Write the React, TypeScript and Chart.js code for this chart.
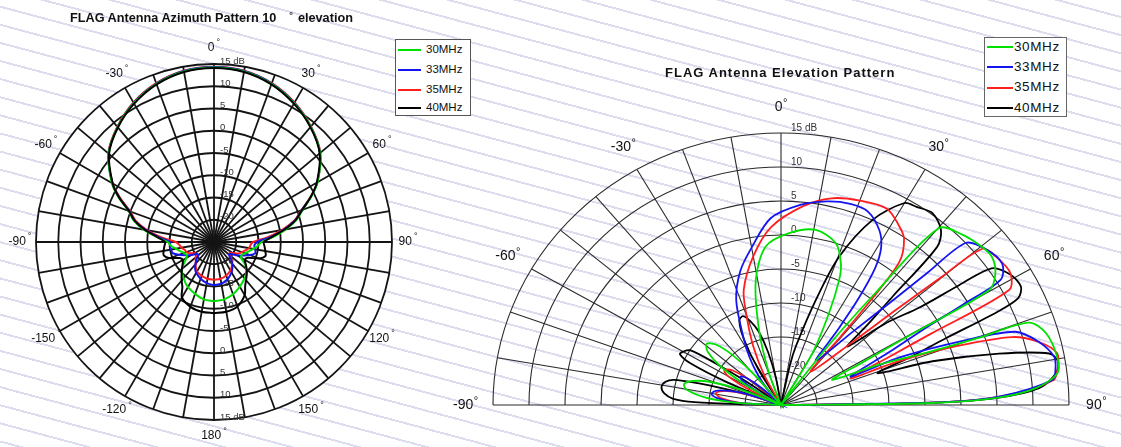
import React, { useEffect, useRef } from 'react';
import { Chart, registerables } from 'chart.js';
Chart.register(...registerables);

// ---------- shared ----------
const SERIES_NAMES = ['30MHz', '33MHz', '35MHz', '40MHz'];
const SERIES_COLORS = ['#00e000', '#1414f0', '#ff1e1e', '#000000'];
const DB_MIN = -25;
const RING_DB = [-20, -15, -10, -5, 0, 5, 10, 15];
const RING_LABELS = ['-20', '-15', '-10', '-5', '0', '5', '10', '15 dB'];
const AZ_TITLE = 'FLAG Antenna Azimuth Pattern 10';
const AZ_TITLE_TAIL = 'elevation';
const EL_TITLE = 'FLAG Antenna Elevation Pattern';

// ---------- azimuth ----------
const AZ_SPOKES = [0, 10, 20, 30, 40, 50, 60, 70, 80, 90, 100, 110, 120, 130, 140, 150, 160, 170, 180, 190, 200, 210, 220, 230, 240, 250, 260, 270, 280, 290, 300, 310, 320, 330, 340, 350];
const AZ_LABEL_ANGLES = [0, 30, 60, 90, 120, 150, 180, 210, 240, 270, 300, 330];
const AZ_LABEL_TEXT = ['0', '30', '60', '90', '120', '150', '180', '-120', '-150', '-90', '-60', '-30'];
const AZ_ANGLES = [-180, -170, -160, -150, -145, -140, -135, -130, -125, -120, -115, -110, -105, -100, -95, -90, -85, -80, -75, -70, -65, -60, -50, -40, -30, -20, -10,
  0, 10, 20, 30, 40, 50, 60, 65, 70, 75, 80, 85, 90, 95, 100, 105, 110, 115, 120, 125, 130, 135, 140, 145, 150, 160, 170, 180];
const AZ_30 = [-11.7, -11.9, -12.6, -13.3, -13.8, -14.4, -14.9, -15.6, -16.8, -17.9, -18.2, -17.8, -17.1, -16.3, -15.3, -14.6, -12.0, -8.9, -6.3, -4.6, -1.4, 1.5, 5.9, 8.7, 11.0, 12.8, 13.9,
  14.2, 13.9, 12.8, 11.0, 8.8, 6.1, 1.9, -0.9, -3.8, -5.8, -8.6, -11.6, -14.3, -15.1, -16.0, -16.9, -17.6, -18.1, -18.0, -16.6, -15.5, -14.8, -14.3, -13.9, -13.4, -12.5, -11.9, -11.7];
const AZ_33 = [-15.3, -15.6, -16.2, -17.0, -17.6, -18.5, -19.5, -20.4, -20.3, -19.2, -18.0, -16.6, -15.4, -15.2, -15.1, -15.1, -12.5, -9.4, -6.6, -4.8, -1.6, 1.4, 5.9, 8.7, 11.1, 12.9, 14.0,
  14.3, 14.0, 12.9, 11.1, 8.8, 6.1, 1.8, -1.0, -4.0, -6.1, -9.1, -12.3, -15.3, -15.9, -15.6, -15.4, -16.4, -17.8, -19.0, -20.3, -20.6, -19.6, -18.6, -17.8, -17.1, -16.1, -15.5, -15.3];
const AZ_35 = [-16.5, -16.6, -16.9, -17.3, -17.9, -18.6, -19.2, -19.6, -20.3, -20.0, -19.0, -18.4, -18.2, -17.6, -17.2, -16.4, -13.2, -9.8, -6.8, -5.0, -1.8, 1.3, 6.0, 8.8, 11.2, 13.0, 14.1,
  14.4, 14.1, 13.0, 11.2, 8.9, 6.2, 1.8, -1.1, -4.1, -6.3, -9.5, -13.0, -16.2, -16.8, -17.0, -17.7, -18.3, -18.9, -20.0, -20.7, -20.2, -19.4, -18.7, -18.1, -17.6, -17.0, -16.6, -16.5];
const AZ_40 = [-9.0, -9.1, -9.5, -10.6, -12.6, -13.7, -14.7, -15.6, -16.4, -16.9, -16.5, -14.4, -13.3, -13.5, -13.8, -14.0, -12.2, -9.2, -6.5, -4.7, -1.5, 1.3, 5.8, 8.6, 10.9, 12.7, 13.8,
  14.1, 13.8, 12.7, 10.9, 8.7, 6.0, 1.7, -1.0, -3.9, -6.0, -8.9, -11.9, -13.8, -13.6, -13.3, -13.0, -14.2, -16.6, -17.0, -16.3, -15.4, -14.6, -13.8, -12.8, -11.2, -9.6, -9.1, -9.0];

// ---------- elevation ----------
const EL_SPOKES = [-90, -80, -70, -60, -50, -40, -30, -20, -10, 0, 10, 20, 30, 40, 50, 60, 70, 80, 90];
const EL_LABEL_ANGLES = [-90, -60, -30, 0, 30, 60, 90];
const EL_LABEL_TEXT = ['-90', '-60', '-30', '0', '30', '60', '90'];

const EL_30_ANG = [-90, -87, -84, -80, -77, -74, -71, -68, -65,
  -62, -59, -56, -52.5, -49, -45.5, -42.5, -39.5, -37,
  -23, -19.5, -15.5, -10.8, -5.2, 2.5, 10.6, 17.7, 21.8, 23.7, 26.3, 29.8, 33,
  35, 37, 38.5, 40.1, 45, 50, 53.4, 57, 59.7, 60.2, 61, 62.5,
  66.5, 69.3, 70.2, 70.6, 74, 79.5, 83, 86, 88, 89.2, 90];
const EL_30_DB = [-25, -19, -14.5, -11.6, -11.2, -12.2, -14.5, -19, -25,
  -25, -19.5, -15, -12.2, -11.3, -12.3, -15, -19.5, -25,
  -25, -20, -13.6, -6.3, -1.6, 0.3, 1.2, 0, -2.6, -4.9, -10, -16.2, -25,
  -25, -14, -4, 9, 10.5, 11.3, 11.5, 10.5, 8.5, -4.3, -12, -17,
  -10, -2.8, 4, 11.5, 13.3, 14, 13.7, 10.5, 5, -4, -25];

const EL_33_ANG = [-90, -87, -84, -80.5, -77, -74, -71.5, -69,
  -62, -59, -56, -53, -50, -47, -44,
  -42, -39, -36, -32, -28, -22, -16, -10, -3, 5, 12, 18, 23, 28, 31, 33, 34.5, 35.5, 36.7,
  42.8, 45.2, 46.3, 47.1, 51, 55.9, 58.9, 59.7, 60.6, 62.7, 66.7,
  67, 69.6, 71.7, 75.5, 79.4, 82, 84.4, 87.7, 89, 90];
const EL_33_DB = [-25, -19, -16.4, -15.2, -15.7, -17.5, -20, -25,
  -25, -21, -18.4, -18, -19, -21.5, -25,
  -25, -22, -19.6, -16.8, -14, -8.4, -4.5, -1.5, 2.5, 4.5, 5.6, 6.1, 5.9, 4.1, 2, -1, -6, -11.5, -16.9,
  -10.3, -3.5, 3.2, 10, 11.5, 12.1, 10.6, 4.3, -2, -8.2, -14.5,
  -7, 2.4, 9.3, 12, 13.6, 13.5, 12.9, 5.3, -3, -25];

const EL_35_ANG = [-90, -87, -83, -79, -75, -72, -69,
  -66, -63, -60, -57, -53, -49, -46,
  -33, -28, -24, -20, -17, -10, -3, 6, 13, 20, 27, 32, 35, 38, 39, 39.5, 40,
  47.1, 48.8, 49.8, 50.6, 54, 58.7, 61.9, 63.3, 64.7, 68,
  68.5, 70.5, 72.7, 75.5, 78.8, 82, 84.5, 87.5, 89, 90];
const EL_35_DB = [-25, -19.5, -16.6, -15.8, -17, -20, -25,
  -25, -20, -16.5, -15.6, -16.5, -20, -25,
  -25, -20, -15.5, -11, -7.3, -2.8, 1.2, 4.4, 6.2, 7, 7.4, 6, 4.8, 1.7, -5, -12, -18.6,
  -11.2, -3.7, 4, 11.2, 12, 12.3, 10.9, -1.8, -8.2, -14.6,
  -7.5, 1, 8.6, 12, 14.1, 13.8, 13, 6, -3, -25];

const EL_40_ANG = [-90, -89, -88, -86.5, -84, -81, -78, -76, -74.5, -73, -71.5, -70,
  -68, -66, -64, -62, -60, -57.5, -56, -54.5, -53,
  -34, -31, -28, -25, -22, -19, -16, -13, -10, -8,
  10, 12, 13.4, 17.4, 20.3, 25, 30, 33, 36.7, 40.8, 43, 44.2, 45.5, 47,
  50.5, 53.3, 54.5, 55.5, 59, 62.4, 64.5, 65.5, 66.8, 68.5, 70.8,
  73, 76, 78.5, 80.5, 83, 86, 88, 89.2, 90];
const EL_40_DB = [-25, -20, -13, -10, -8.7, -8.2, -8.6, -9.7, -13, -17, -20, -25,
  -25, -17, -11, -9.1, -9.3, -10, -14, -19, -25,
  -25, -19, -14, -11.3, -10.9, -12, -13.8, -17, -21, -25,
  -25, -19, -16.2, -8.8, -1.8, 5, 9.3, 9.7, 10.2, 9, 6.8, -2.8, -8, -12.4,
  -6, -1, 5, 10.5, 12.2, 12.6, 11.5, 8, -0.1, -5.5, -10.8,
  -3, 6.2, 13, 14, 13.5, 11, 5, -5, -25];

const FONT = '"Liberation Sans", Arial, Helvetica, sans-serif';

function toXY(angles: number[], dbs: number[]) {
  return angles.map((a, i) => {
    const r = Math.max(0, dbs[i] - DB_MIN);
    const t = (a * Math.PI) / 180;
    return { x: r * Math.sin(t), y: r * Math.cos(t) };
  });
}

type GridOpts = {
  full: boolean;
  spokes: number[];
  labelAngles: number[];
  labelText: string[];
  labelR: number;
  font: string;
  supFont: string;
  supGap: number;
  supRaise: number;
  gridColor: string;
  gridWidth: number;
  ringFont: string;
  ringDx: number;
  ringDy: number;
  fillWhite: boolean;
};

function drawDeg(ctx: CanvasRenderingContext2D, text: string, x: number, y: number, o: GridOpts) {
  ctx.font = o.font;
  const w1 = ctx.measureText(text).width;
  ctx.font = o.supFont;
  const w2 = ctx.measureText('°').width;
  const left = x - (w1 + o.supGap + w2) / 2;
  ctx.textAlign = 'left';
  ctx.textBaseline = 'middle';
  ctx.fillStyle = '#111';
  ctx.font = o.font;
  ctx.fillText(text, left, y);
  ctx.font = o.supFont;
  ctx.fillText('°', left + w1 + o.supGap, y - o.supRaise);
}

function polarPlugin(o: GridOpts) {
  const rMax = RING_DB[RING_DB.length - 1] - DB_MIN;
  return {
    id: 'polarGrid',
    beforeDatasetsDraw(chart: any) {
      const { ctx, scales } = chart;
      const sx = scales.x, sy = scales.y;
      const cx = sx.getPixelForValue(0), cy = sy.getPixelForValue(0);
      const P = (r: number, a: number) => {
        const t = (a * Math.PI) / 180;
        return [sx.getPixelForValue(r * Math.sin(t)), sy.getPixelForValue(r * Math.cos(t))];
      };
      const a0 = o.full ? 0 : Math.PI;
      const a1 = 2 * Math.PI;
      ctx.save();
      if (o.fillWhite) {
        ctx.beginPath();
        ctx.ellipse(cx, cy, sx.getPixelForValue(rMax) - cx, cy - sy.getPixelForValue(rMax), 0, a0, a1);
        ctx.fillStyle = '#fff';
        ctx.fill();
      }
      ctx.strokeStyle = o.gridColor;
      ctx.lineWidth = o.gridWidth;
      RING_DB.forEach((d) => {
        const r = d - DB_MIN;
        ctx.beginPath();
        ctx.ellipse(cx, cy, sx.getPixelForValue(r) - cx, cy - sy.getPixelForValue(r), 0, a0, a1);
        ctx.stroke();
      });
      o.spokes.forEach((a) => {
        const [x, y] = P(rMax, a);
        ctx.beginPath();
        ctx.moveTo(cx, cy);
        ctx.lineTo(x, y);
        ctx.stroke();
      });
      // ring labels
      ctx.font = o.ringFont;
      ctx.fillStyle = '#333';
      ctx.textAlign = 'left';
      ctx.textBaseline = 'middle';
      RING_DB.forEach((d, i) => {
        const r = d - DB_MIN;
        const ry = cy - sy.getPixelForValue(r);
        ctx.fillText(RING_LABELS[i], cx + o.ringDx, cy - ry - o.ringDy);
        if (o.full) ctx.fillText(RING_LABELS[i], cx + o.ringDx, cy + ry - o.ringDy);
      });
      ctx.restore();
    },
    afterDatasetsDraw(chart: any) {
      const { ctx, scales } = chart;
      const sx = scales.x, sy = scales.y;
      ctx.save();
      o.labelAngles.forEach((a, i) => {
        const t = (a * Math.PI) / 180;
        const x = sx.getPixelForValue(o.labelR * Math.sin(t));
        const y = sy.getPixelForValue(o.labelR * Math.cos(t));
        drawDeg(ctx, o.labelText[i], x, y, o);
      });
      ctx.restore();
    },
  };
}

function makeDatasets(series: { x: number; y: number }[][], order: number[], width: number) {
  return order.map((i) => ({
    label: SERIES_NAMES[i],
    data: series[i],
    showLine: true,
    borderColor: SERIES_COLORS[i],
    backgroundColor: SERIES_COLORS[i],
    borderWidth: width,
    pointRadius: 0,
    tension: 0.3,
    fill: false,
    clip: false as any,
  }));
}

function PolarChart(props: {
  width: number; height: number; left: number;
  padding: { left: number; right: number; top: number; bottom: number };
  yMin: number; series: { x: number; y: number }[][]; order: number[]; lineWidth: number; opts: GridOpts;
}) {
  const ref = useRef<HTMLCanvasElement>(null);
  useEffect(() => {
    if (!ref.current) return;
    const chart = new Chart(ref.current, {
      type: 'scatter',
      data: { datasets: makeDatasets(props.series, props.order, props.lineWidth) as any },
      options: {
        responsive: false,
        animation: false,
        events: [],
        layout: { padding: props.padding },
        scales: {
          x: { type: 'linear', min: -40, max: 40, display: false },
          y: { type: 'linear', min: props.yMin, max: 40, display: false },
        },
        plugins: { legend: { display: false }, tooltip: { enabled: false }, title: { display: false } },
      },
      plugins: [polarPlugin(props.opts) as any],
    });
    return () => chart.destroy();
  }, []);
  return (
    <canvas ref={ref} width={props.width} height={props.height}
      style={{ position: 'absolute', left: props.left, top: 0, width: props.width, height: props.height }} />
  );
}

function Legend(props: { left: number; top: number; width: number; height: number; rows: number[]; lineW: number; textLeft: number; fontSize: number; border: string; spacing: number }) {
  return (
    <div style={{ position: 'absolute', left: props.left, top: props.top, width: props.width, height: props.height, border: props.border, background: '#fff', boxSizing: 'border-box' }}>
      {SERIES_NAMES.map((n, i) => (
        <div key={n} style={{ position: 'absolute', left: 0, top: props.rows[i], height: 0 }}>
          <div style={{ position: 'absolute', left: 2, top: -1, width: props.lineW, height: 2, background: SERIES_COLORS[i] }} />
          <div style={{ position: 'absolute', left: props.textLeft, top: -props.fontSize * 0.6, fontFamily: FONT, fontSize: props.fontSize, lineHeight: `${props.fontSize * 1.2}px`, color: '#111', whiteSpace: 'nowrap', letterSpacing: props.spacing }}>{n}</div>
        </div>
      ))}
    </div>
  );
}

export default function App() {
  const azSeries = [AZ_30, AZ_33, AZ_35, AZ_40].map((d) => toXY(AZ_ANGLES, d));
  const elSeries = [
    toXY(EL_30_ANG, EL_30_DB),
    toXY(EL_33_ANG, EL_33_DB),
    toXY(EL_35_ANG, EL_35_DB),
    toXY(EL_40_ANG, EL_40_DB),
  ];
  const azOpts: GridOpts = {
    full: true, spokes: AZ_SPOKES, labelAngles: AZ_LABEL_ANGLES, labelText: AZ_LABEL_TEXT, labelR: 43.6,
    font: `12px ${FONT}`, supFont: `9px ${FONT}`, supGap: 2, supRaise: 5,
    gridColor: '#141414', gridWidth: 1.8, ringFont: `9.5px ${FONT}`, ringDx: 6, ringDy: 3, fillWhite: true,
  };
  const elOpts: GridOpts = {
    full: false, spokes: EL_SPOKES, labelAngles: EL_LABEL_ANGLES, labelText: EL_LABEL_TEXT, labelR: 43.8,
    font: `14px ${FONT}`, supFont: `11px ${FONT}`, supGap: 0.5, supRaise: 4,
    gridColor: '#2a2a2a', gridWidth: 1.1, ringFont: `10px ${FONT}`, ringDx: 10, ringDy: 4.5, fillWhite: false,
  };
  const stripes = 'repeating-linear-gradient(195deg, rgba(255,255,255,0) 0px, rgba(255,255,255,0) 15.5px, rgba(214,214,236,0.85) 15.5px, rgba(214,214,236,0.85) 17.5px)';
  return (
    <div style={{ position: 'absolute', left: 0, top: 0, width: 1121, height: 447, overflow: 'hidden', background: `${stripes}, #fff` }}>
      <PolarChart width={440} height={447} left={0}
        padding={{ left: 36, right: 48, top: 64, bottom: 27 }} yMin={-40}
        series={azSeries} order={[3, 0, 1, 2]} lineWidth={2} opts={azOpts} />
      <PolarChart width={681} height={447} left={440}
        padding={{ left: 53, right: 52, top: 133, bottom: 42 }} yMin={0}
        series={elSeries} order={[0, 1, 2, 3]} lineWidth={1.8} opts={elOpts} />
      <div style={{ position: 'absolute', left: 70, top: 10, fontFamily: FONT, fontWeight: 'bold', fontSize: 12.7, lineHeight: '16px', color: '#111', whiteSpace: 'nowrap' }}>
        <span>{AZ_TITLE}</span>
        <span style={{ marginLeft: 13, fontSize: 9, position: 'relative', top: -4 }}>°</span>
        <span style={{ marginLeft: 5 }}>{AZ_TITLE_TAIL}</span>
      </div>
      <div style={{ position: 'absolute', left: 665, top: 65, fontFamily: FONT, fontWeight: 'bold', fontSize: 13, lineHeight: '16px', color: '#111', whiteSpace: 'nowrap', letterSpacing: 1 }}>
        {EL_TITLE}
      </div>
      <Legend left={395} top={39} width={76} height={77} rows={[10, 30, 50, 68]} lineW={23} textLeft={30} fontSize={11.5} border='1.5px solid #555' spacing={0} />
      <Legend left={984} top={37} width={83} height={80} rows={[9, 29, 49.5, 70]} lineW={26} textLeft={29} fontSize={13.5} border='1px solid #666' spacing={0.6} />
    </div>
  );
}
